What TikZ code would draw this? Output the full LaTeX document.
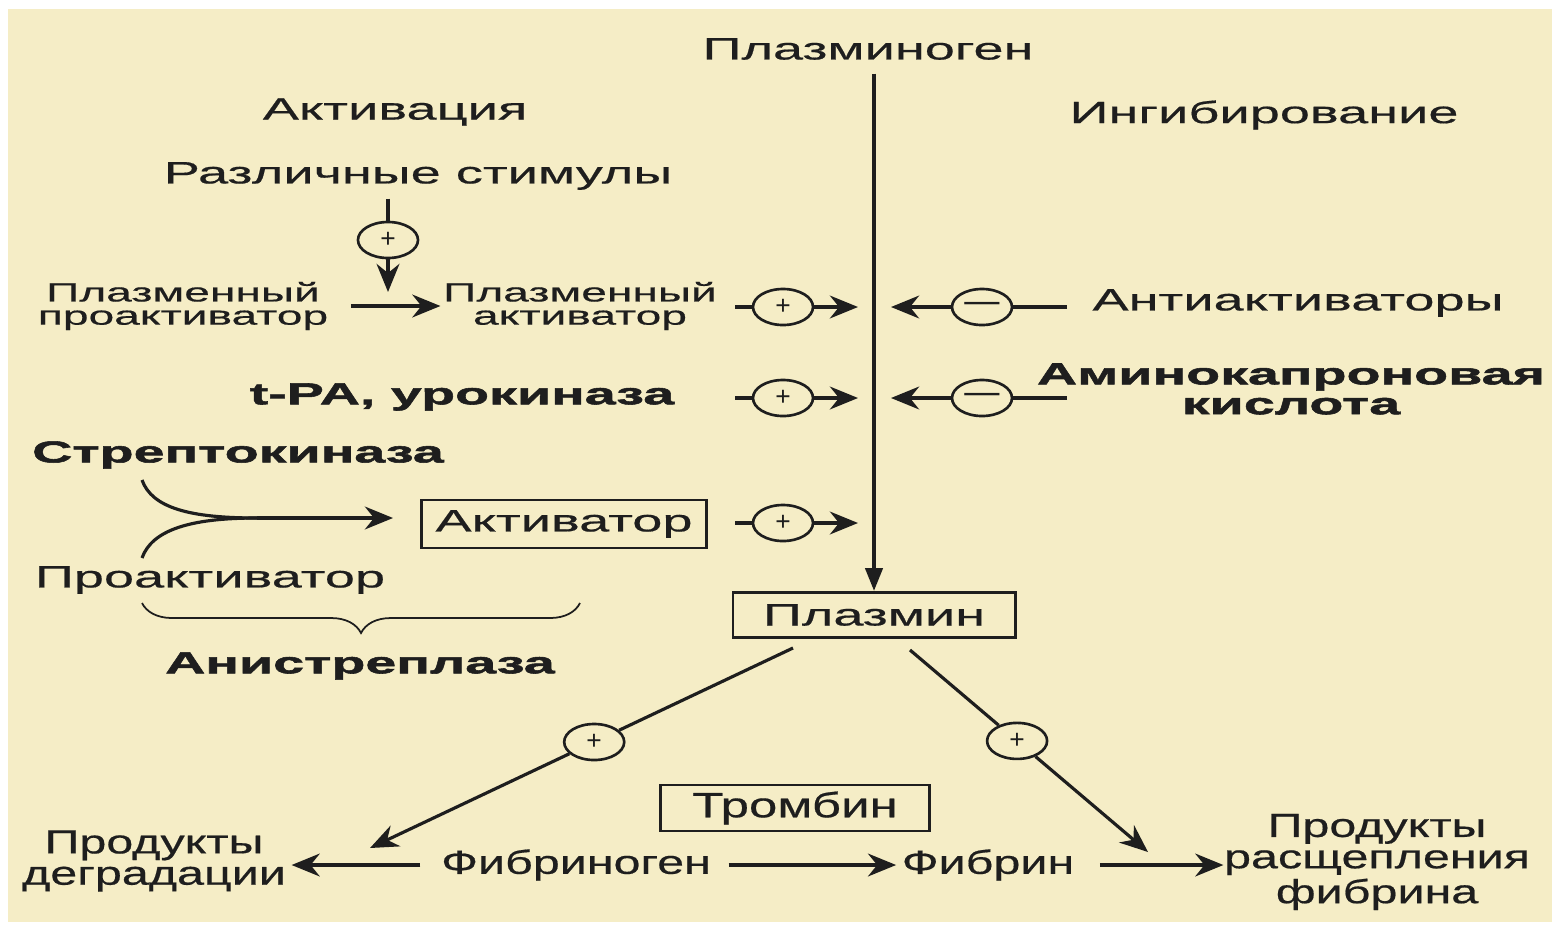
\documentclass[tikz,border=0pt]{standalone}
\usepackage{fontspec}
\setmainfont{Liberation Sans}
\newfontfamily\widefont{Liberation Sans}[FakeStretch=1.75,FakeBold=0.5]
\newfontfamily\heavyfont{Liberation Sans Bold}[FakeStretch=1.84,FakeBold=1.8]
\newfontfamily\condfont{Liberation Sans}[FakeStretch=1.45,FakeBold=0.5]
\usetikzlibrary{arrows.meta,shapes.geometric,decorations.pathreplacing,calc}

\definecolor{paper}{HTML}{F5EDC6}
\definecolor{ink}{HTML}{1E1E1E}

\tikzset{
  txtbig/.style={font=\widefont\fontsize{8.8}{9.5}\selectfont},
  txtsmall/.style={font=\widefont\fontsize{7.5}{6.6}\selectfont,align=center},
  txtbold/.style={font=\heavyfont\fontsize{8.6}{8.5}\selectfont,align=center},
  txtcond/.style={font=\condfont\fontsize{9.5}{8.9}\selectfont,align=center},
  boxed/.style={draw=ink,line width=0.8pt},
  sign/.style={ellipse,draw=ink,line width=0.75pt,minimum width=0.6cm,
    minimum height=0.36cm,font=\fontsize{7.5}{7.5}\selectfont},
  link/.style={draw=ink,line width=0.9pt},
  flow/.style={link,-{Stealth[length=8pt,width=6.5pt,inset=2.6pt]}},
}

\begin{document}
\begin{tikzpicture}
  [x=0.01cm,y=-0.01cm,every node/.style={inner sep=0pt,text=ink}]
  \useasboundingbox (0,0) rectangle (1552,927);
  \fill[paper] (8,9) rectangle (1552,922);

  % headings
  \node[txtbig] (plg) at (868,49) {Плазминоген};
  \node[txtbig] (act) at (395,112) {Активация};
  \node[txtbig] (inh) at (1264,115) {Ингибирование};

  % activation side
  \node[txtbig] (stim) at (418,176) {Различные стимулы};
  \node[txtsmall] (pro) at (183,306) {Плазменный\\проактиватор};
  \node[txtsmall] (pact) at (580,306) {Плазменный\\активатор};
  \node[txtbold] (tpa) at (462,397) {t-PA, урокиназа};
  \node[txtbold] (strep) at (238,455) {Стрептокиназа};
  \node[boxed,txtbig,minimum width=2.85cm,minimum height=0.48cm] (actv) at (564,524) {Активатор};
  \node[txtbig] (proact) at (210,580) {Проактиватор};
  \node[txtbold] (anis) at (360,666) {Анистреплаза};

  % inhibition side
  \node[txtbig] (anti) at (1298,303) {Антиактиваторы};
  \node[txtbold] (acid) at (1291,389) {Аминокапроновая\\кислота};

  % plasmin and fibrin
  \node[boxed,txtbig,minimum width=2.82cm,minimum height=0.45cm] (plm) at (874,615) {Плазмин};
  \node[boxed,txtcond,font=\condfont\fontsize{10}{10}\selectfont,
    minimum width=2.69cm,minimum height=0.46cm] (thr) at (795,808) {Тромбин};
  \node[txtcond] (deg) at (154,861) {Продукты\\деградации};
  \node[txtcond] (fbg) at (576,865) {Фибриноген};
  \node[txtcond] (fib) at (988,865) {Фибрин};
  \node[txtcond] (split) at (1377,862) {Продукты\\расщепления\\фибрина};

  % main axis
  \draw[line width=1.2pt,draw=ink,-{Triangle[length=6.5pt,width=4.8pt]},shorten <=0.13cm]
    (plg.south -| plm.north) -- (plm.north);

  % stimuli
  \node[sign] (ps) at (388,240) {+};
  \coordinate (sh) at (388,292);
  \draw[link,shorten <=0.08cm] (stim.south -| ps) -- (ps);
  \draw[flow] (ps) -- (sh);
  \draw[flow,shorten <=0.22cm,shorten >=0.02cm] (pro) -- (pact);

  % signs next to the axis
  \node[sign] (pa1) at (783,307) {+};
  \node[sign] (pa2) at (783,398) {+};
  \node[sign] (pa3) at (783,523) {+};
  \node[sign] (ma1) at (982,307) {\fontsize{10}{10}\selectfont —};
  \node[sign] (ma2) at (982,398) {\fontsize{10}{10}\selectfont —};

  \coordinate (ta1) at (735,307); \coordinate (ha1) at (858,307);
  \coordinate (ta2) at (735,398); \coordinate (ha2) at (858,398);
  \coordinate (ta3) at (735,523); \coordinate (ha3) at (858,523);
  \coordinate (tm1) at (1067,307); \coordinate (hm1) at (891,307);
  \coordinate (tm2) at (1067,398); \coordinate (hm2) at (891,398);

  \draw[link] (ta1) -- (pa1); \draw[flow] (pa1) -- (ha1);
  \draw[link] (ta2) -- (pa2); \draw[flow] (pa2) -- (ha2);
  \draw[link] (ta3) -- (pa3); \draw[flow] (pa3) -- (ha3);
  \draw[link] (tm1) -- (ma1); \draw[flow] (ma1) -- (hm1);
  \draw[link] (tm2) -- (ma2); \draw[flow] (ma2) -- (hm2);

  % streptokinase + proactivator
  \coordinate (cs) at (142,480);
  \coordinate (cp) at (142,558);
  \coordinate (cm) at (257,518);
  \draw[link] (cs) .. controls (152,508) and (190,518) .. (cm);
  \draw[link] (cp) .. controls (152,530) and (190,518) .. (cm);
  \draw[flow,shorten >=0.27cm] (cm) -- (cm -| actv.west);

  \coordinate (brl) at (142,603);
  \coordinate (brr) at (580,603);
  \draw[draw=ink,line width=0.5pt,decorate,
    decoration={brace,mirror,amplitude=0.3cm,aspect=0.5}] (brl) -- (brr);

  % plasmin splits fibrin(ogen)
  \coordinate (dl) at (793,648); \coordinate (el) at (370,848);
  \coordinate (dr) at (910,650); \coordinate (er) at (1148,852);
  \node[sign] (pl) at ($(dl)!0.47!(el)$) {+};
  \node[sign] (pr) at ($(dr)!0.45!(er)$) {+};
  \draw[link] (dl) -- (pl); \draw[flow] (pl) -- (el);
  \draw[link] (dr) -- (pr); \draw[flow] (pr) -- (er);

  \draw[flow,shorten <=0.2cm,shorten >=0.05cm] (fbg.west) -- (fbg.west -| deg.east);
  \draw[flow,shorten <=0.17cm,shorten >=0.05cm] (fbg) -- (fib);
  \draw[flow,shorten <=0.25cm] (fib.east) -- (fib.east -| split.west);
\end{tikzpicture}
\end{document}
